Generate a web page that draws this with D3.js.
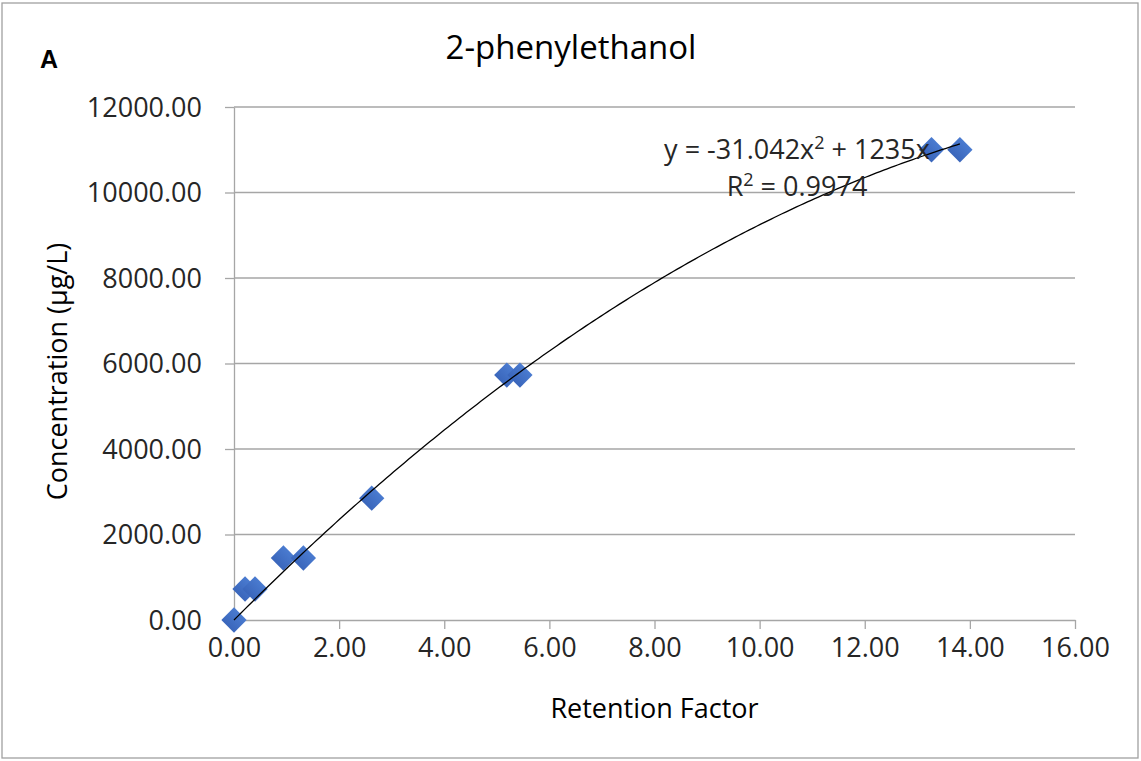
<!DOCTYPE html>
<html>
<head>
<meta charset="utf-8">
<script src="https://cdn.jsdelivr.net/npm/d3@7"></script>
<style>
  html, body { margin: 0; padding: 0; background: #fff; }
  svg { display: block; font-family: "Open Sans", sans-serif; }
</style>
</head>
<body>
<svg id="chart" width="1141" height="761"></svg>
<script>
// Calibration data for 2-phenylethanol
const retentionFactor = [0.00, 0.21, 0.40, 0.94, 1.32, 2.62, 5.19, 5.44, 13.27, 13.81];
const concentration   = [0, 725, 725, 1450, 1450, 2850, 5730, 5730, 11000, 11000];

// Second-order polynomial trendline (forced through origin)
const trendCoef = { a: -31.042, b: 1235, c: 0 };
const trendR2 = 0.9974;

const xTicks = [0, 2, 4, 6, 8, 10, 12, 14, 16];
const yTicks = [0, 2000, 4000, 6000, 8000, 10000, 12000];

const svg = d3.select("#chart");
const W = 1141, H = 761;
const plot = { left: 234, right: 1075, top: 107, bottom: 620 };

const x = d3.scaleLinear().domain([0, 16]).range([plot.left, plot.right]);
const y = d3.scaleLinear().domain([0, 12000]).range([plot.bottom, plot.top]);

const grey = "#a6a6a6";
const textCol = "#262626";

// Chart frame
svg.append("rect")
  .attr("x", 2).attr("y", 3).attr("width", W - 5).attr("height", H - 6)
  .attr("fill", "#fff").attr("stroke", "#a0a0a0").attr("stroke-width", 1.3);

// Horizontal gridlines
svg.append("g").selectAll("line")
  .data(yTicks.filter(v => v > 0))
  .join("line")
  .attr("x1", plot.left).attr("x2", plot.right)
  .attr("y1", d => y(d)).attr("y2", d => y(d))
  .attr("stroke", grey).attr("stroke-width", 1.3);

// X axis
const xAxis = svg.append("g")
  .attr("transform", `translate(0,${plot.bottom})`)
  .call(d3.axisBottom(x).tickValues(xTicks).tickFormat(d3.format(".2f")).tickSize(9).tickSizeOuter(0).tickPadding(8));
xAxis.select(".domain").attr("stroke", grey).attr("stroke-width", 1.3);
xAxis.selectAll(".tick line").attr("stroke", grey).attr("stroke-width", 1.3);
xAxis.selectAll(".tick text").attr("font-size", 27).attr("fill", textCol)
  .attr("font-family", "Open Sans, sans-serif").attr("dy", "0.75em");

// Y axis
const yAxis = svg.append("g")
  .attr("transform", `translate(${plot.left},0)`)
  .call(d3.axisLeft(y).tickValues(yTicks).tickFormat(d3.format(".2f")).tickSize(9).tickSizeOuter(0).tickPadding(23));
yAxis.select(".domain").attr("stroke", grey).attr("stroke-width", 1.3);
yAxis.selectAll(".tick line").attr("stroke", grey).attr("stroke-width", 1.3);
yAxis.selectAll(".tick text").attr("font-size", 27).attr("fill", textCol)
  .attr("font-family", "Open Sans, sans-serif").attr("dy", "0.35em");

// Data markers (diamonds)
const defs = svg.append("defs");
const grad = defs.append("linearGradient").attr("id", "mk").attr("x1", 0).attr("y1", 0).attr("x2", 0).attr("y2", 1);
grad.append("stop").attr("offset", "0%").attr("stop-color", "#4a7bd0");
grad.append("stop").attr("offset", "100%").attr("stop-color", "#3a66bb");

const pts = retentionFactor.map((v, i) => ({ x: v, y: concentration[i] }));
const diamond = d3.symbol().type(d3.symbolSquare).size(320);
svg.append("g").selectAll("path")
  .data(pts)
  .join("path")
  .attr("d", diamond)
  .attr("transform", d => `translate(${x(d.x)},${y(d.y)}) rotate(45)`)
  .attr("fill", "url(#mk)");

// Trendline
const xMax = d3.max(retentionFactor);
const trendPts = d3.range(0, 201).map(i => {
  const xv = xMax * i / 200;
  return [xv, trendCoef.a * xv * xv + trendCoef.b * xv + trendCoef.c];
});
svg.append("path")
  .datum(trendPts)
  .attr("d", d3.line().x(d => x(d[0])).y(d => y(d[1])).curve(d3.curveLinear))
  .attr("fill", "none").attr("stroke", "#000").attr("stroke-width", 1.3);

// Trendline equation
const eq = svg.append("text")
  .attr("x", 797).attr("y", 159)
  .attr("text-anchor", "middle").attr("font-size", 27).attr("fill", textCol);
eq.append("tspan").text(`y = ${trendCoef.a}x`);
eq.append("tspan").attr("font-size", 18).attr("dy", -10).text("2");
eq.append("tspan").attr("dy", 10).text(` + ${trendCoef.b}x`);

const r2 = svg.append("text")
  .attr("x", 797).attr("y", 196)
  .attr("text-anchor", "middle").attr("font-size", 27).attr("fill", textCol);
r2.append("tspan").text("R");
r2.append("tspan").attr("font-size", 18).attr("dy", -10).text("2");
r2.append("tspan").attr("dy", 10).text(` = ${trendR2}`);

// Title
svg.append("text")
  .attr("x", 571).attr("y", 59)
  .attr("text-anchor", "middle").attr("font-size", 33).attr("fill", "#000")
  .text("2-phenylethanol");

// Panel label
svg.append("text")
  .attr("x", 40).attr("y", 68)
  .attr("font-family", "Liberation Sans, Arial, sans-serif")
  .attr("font-weight", "bold").attr("font-size", 25).attr("fill", "#000")
  .text("A");

// Axis titles
svg.append("text")
  .attr("x", (plot.left + plot.right) / 2).attr("y", 718)
  .attr("text-anchor", "middle").attr("font-size", 27).attr("fill", "#000")
  .text("Retention Factor");

svg.append("text")
  .attr("transform", `translate(67,${(plot.top + plot.bottom) / 2 + 8}) rotate(-90)`)
  .attr("text-anchor", "middle").attr("font-size", 27).attr("fill", "#000")
  .text("Concentration (µg/L)");
</script>
</body>
</html>
